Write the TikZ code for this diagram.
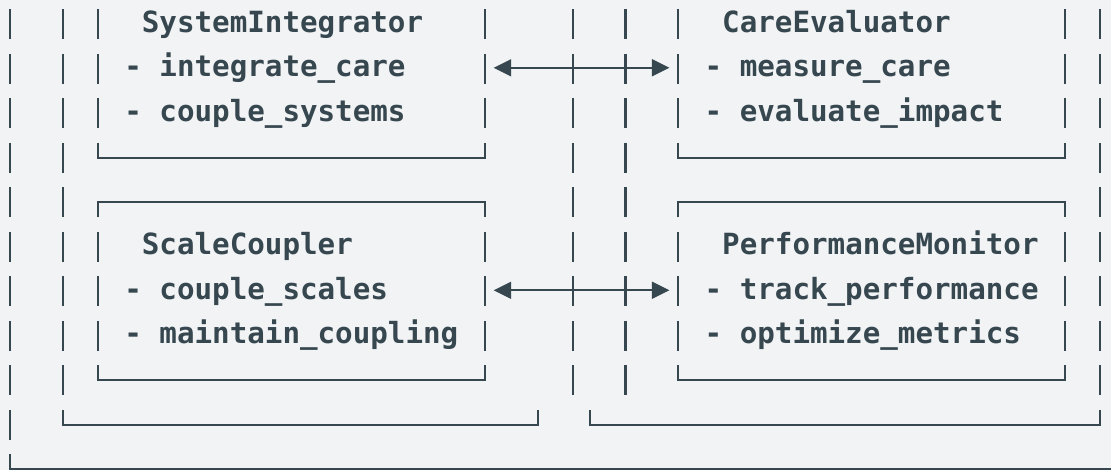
\documentclass[tikz,border=0pt]{standalone}
\usepackage{fontspec}
\newfontfamily\monof{DejaVu Sans Mono}
\usetikzlibrary{arrows.meta}
\definecolor{bg}{HTML}{F1F3F5}
\definecolor{ink}{HTML}{37474F}
\def\cw{17.585}
\def\rp{44.5}
\begin{document}
\begin{tikzpicture}[x=1pt,y=-1pt,
  lbl/.style={anchor=base west,inner sep=0pt,outer sep=0pt,text=ink,font=\monof\bfseries\fontsize{29.2pt}{35pt}\selectfont},
  bar/.style={draw=ink,line width=2.2pt},
  frame/.style={draw=ink,line width=2pt},
  link/.style={draw=ink,line width=2pt,{Triangle[length=17.6pt,width=17pt]}-{Triangle[length=17.6pt,width=17pt]}}]
\useasboundingbox (0,0) rectangle (1111,470);
\fill[bg] (0,0) rectangle (1111,470);
\clip (0,0) rectangle (1111,470);
% vertical bars
\foreach \r in {0,1,2,5,6,7}
  \foreach \k in {0,3,5,27,32,35,38,60,62}
    \draw[bar] ({10+\cw*\k},{9.3+\rp*\r}) -- ++(0,30);
\foreach \r in {3,4,8}
  \foreach \k in {0,3,32,35,62}
    \draw[bar] ({10+\cw*\k},{9.3+\rp*\r}) -- ++(0,30);
\draw[bar] (10,{9.3+\rp*9}) -- ++(0,30);
% box frames
\foreach \a/\b in {5/27,38/60}{
  \draw[frame] ({10+\cw*\a},{9.3+\rp*3}) |- ({10+\cw*\b},{24.3+\rp*3}) -- ++(0,-15);
  \draw[frame] ({10+\cw*\a},{39.3+\rp*4}) |- ({10+\cw*\b},{24.3+\rp*4}) -- ++(0,15);
  \draw[frame] ({10+\cw*\a},{9.3+\rp*8}) |- ({10+\cw*\b},{24.3+\rp*8}) -- ++(0,-15);
}
\draw[frame] ({10+\cw*3},{9.3+\rp*9}) |- ({10+\cw*30},{24.3+\rp*9}) -- ++(0,-15);
\draw[frame] ({10+\cw*33},{9.3+\rp*9}) |- ({10+\cw*62},{24.3+\rp*9}) -- ++(0,-15);
\draw[frame] (10,{9.3+\rp*10}) |- (1120,{24.3+\rp*10});
% texts
\node[lbl] (siT) at ({1.21+\cw*8},{32.1+\rp*0}) {SystemIntegrator};
\node[lbl] (si1) at ({1.21+\cw*7},{32.1+\rp*1}) {- integrate\_care};
\node[lbl] (si2) at ({1.21+\cw*7},{32.1+\rp*2}) {- couple\_systems};
\node[lbl] (ceT) at ({1.21+\cw*41},{32.1+\rp*0}) {CareEvaluator};
\node[lbl] (ce1) at ({1.21+\cw*40},{32.1+\rp*1}) {- measure\_care};
\node[lbl] (ce2) at ({1.21+\cw*40},{32.1+\rp*2}) {- evaluate\_impact};
\node[lbl] (scT) at ({1.21+\cw*8},{32.1+\rp*5}) {ScaleCoupler};
\node[lbl] (sc1) at ({1.21+\cw*7},{32.1+\rp*6}) {- couple\_scales};
\node[lbl] (sc2) at ({1.21+\cw*7},{32.1+\rp*7}) {- maintain\_coupling};
\node[lbl] (pmT) at ({1.21+\cw*41},{32.1+\rp*5}) {PerformanceMonitor};
\node[lbl] (pm1) at ({1.21+\cw*40},{32.1+\rp*6}) {- track\_performance};
\node[lbl] (pm2) at ({1.21+\cw*40},{32.1+\rp*7}) {- optimize\_metrics};
% connectors
\coordinate (siE) at ({1.21+\cw*28},{23.3+\rp*1});
\coordinate (ceW) at ({1.21+\cw*38},{23.3+\rp*1});
\coordinate (scE) at ({1.21+\cw*28},{23.3+\rp*6});
\coordinate (pmW) at ({1.21+\cw*38},{23.3+\rp*6});
\draw[link] (siE) -- (ceW);
\draw[link] (scE) -- (pmW);
\end{tikzpicture}
\end{document}
